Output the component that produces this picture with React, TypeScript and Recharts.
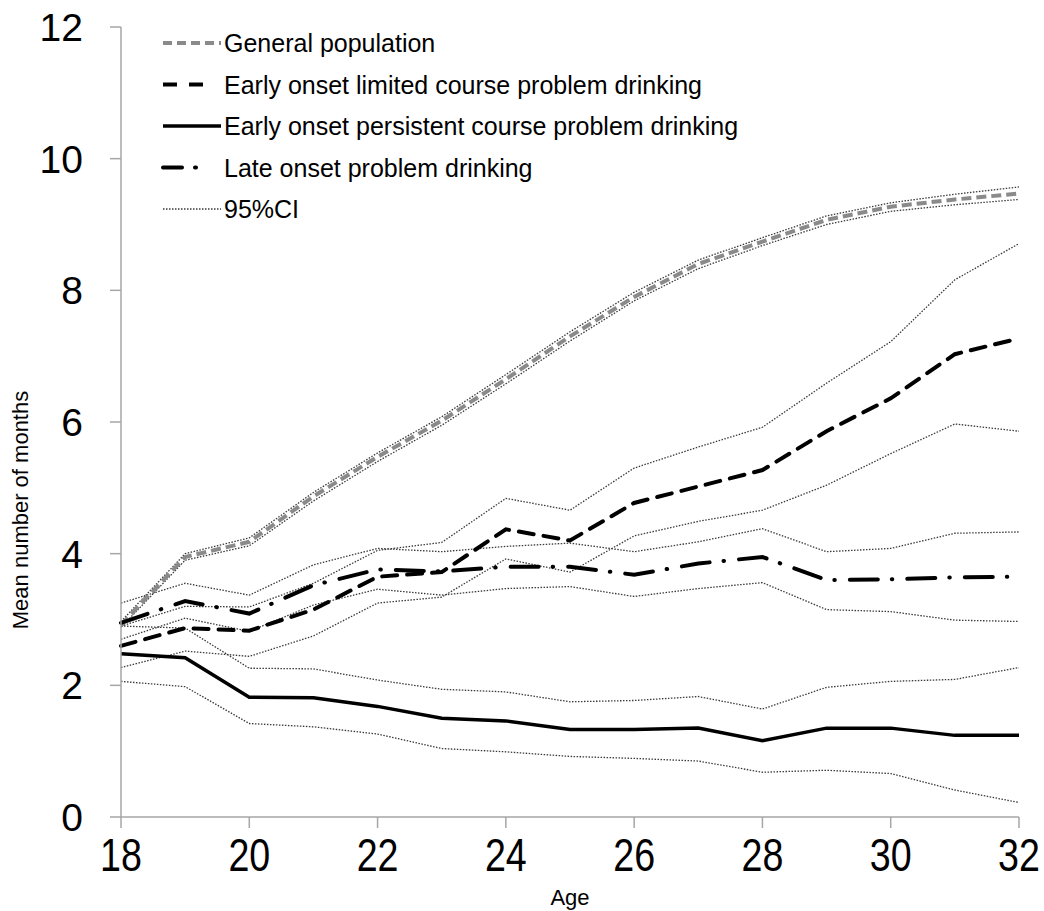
import React from 'react';
import { LineChart, Line, XAxis, YAxis, Label } from 'recharts';

const ages = [18, 19, 20, 21, 22, 23, 24, 25, 26, 27, 28, 29, 30, 31, 32];
const xTicks = [18, 20, 22, 24, 26, 28, 30, 32];
const yTicks = [0, 2, 4, 6, 8, 10, 12];

const generalPopulation = [2.92, 3.95, 4.18, 4.87, 5.47, 6.02, 6.65, 7.3, 7.9, 8.4, 8.74, 9.07, 9.27, 9.38, 9.47];
const generalLow = [2.88, 3.9, 4.12, 4.8, 5.4, 5.95, 6.58, 7.23, 7.84, 8.33, 8.68, 9.0, 9.2, 9.3, 9.38];
const generalHigh = [2.97, 4.0, 4.24, 4.93, 5.53, 6.08, 6.72, 7.37, 7.97, 8.46, 8.8, 9.13, 9.33, 9.46, 9.57];

const limitedCourse = [2.6, 2.87, 2.83, 3.15, 3.65, 3.72, 4.37, 4.2, 4.77, 5.02, 5.27, 5.86, 6.36, 7.03, 7.27];
const limitedLow = [2.27, 2.52, 2.44, 2.75, 3.25, 3.34, 3.92, 3.72, 4.27, 4.49, 4.66, 5.04, 5.52, 5.97, 5.86];
const limitedHigh = [2.9, 3.2, 3.19, 3.55, 4.05, 4.17, 4.84, 4.66, 5.3, 5.62, 5.92, 6.59, 7.22, 8.16, 8.71];

const persistentCourse = [2.48, 2.42, 1.82, 1.81, 1.68, 1.5, 1.46, 1.33, 1.33, 1.35, 1.16, 1.35, 1.35, 1.24, 1.24];
const persistentLow = [2.06, 1.98, 1.42, 1.37, 1.26, 1.04, 0.99, 0.92, 0.89, 0.85, 0.68, 0.71, 0.66, 0.41, 0.22];
const persistentHigh = [2.9, 2.87, 2.26, 2.25, 2.08, 1.94, 1.9, 1.75, 1.77, 1.83, 1.64, 1.97, 2.06, 2.09, 2.27];

const lateOnset = [2.95, 3.28, 3.09, 3.52, 3.76, 3.73, 3.8, 3.8, 3.68, 3.85, 3.95, 3.6, 3.61, 3.64, 3.65];
const lateLow = [2.7, 3.02, 2.82, 3.22, 3.46, 3.37, 3.47, 3.5, 3.35, 3.47, 3.56, 3.15, 3.12, 2.99, 2.97];
const lateHigh = [3.25, 3.55, 3.37, 3.83, 4.08, 4.03, 4.11, 4.16, 4.03, 4.18, 4.38, 4.03, 4.08, 4.31, 4.33];

const data = ages.map((age, i) => ({
  age,
  general: generalPopulation[i],
  generalLow: generalLow[i],
  generalHigh: generalHigh[i],
  limited: limitedCourse[i],
  limitedLow: limitedLow[i],
  limitedHigh: limitedHigh[i],
  persistent: persistentCourse[i],
  persistentLow: persistentLow[i],
  persistentHigh: persistentHigh[i],
  late: lateOnset[i],
  lateLow: lateLow[i],
  lateHigh: lateHigh[i],
}));

const FONT = '"Liberation Sans", Arial, sans-serif';
const GRAY = '#8a8a8a';
const AXIS = '#a6a6a6';
const CI_COLOR = '#3a3a3a';

const ciKeys = ['generalLow', 'generalHigh', 'limitedLow', 'limitedHigh', 'persistentLow', 'persistentHigh', 'lateLow', 'lateHigh'];

const legendItems = [
  { label: 'General population', stroke: GRAY, width: 4, dash: '9 5', x2: 221, cap: 'butt' },
  { label: 'Early onset limited course problem drinking', stroke: '#000', width: 4, dash: '14 12', x2: 203, cap: 'butt' },
  { label: 'Early onset persistent course problem drinking', stroke: '#000', width: 3.5, dash: undefined, x2: 221, cap: 'butt' },
  { label: 'Late onset problem drinking', stroke: '#000', width: 4, dash: '19 13 1 100', x2: 198, cap: 'round' },
  { label: '95%CI', stroke: CI_COLOR, width: 1.3, dash: '1.5 1.5', x2: 221, cap: 'butt' },
];

const XTick = (props: any) => {
  const { x, y, payload } = props;
  return (
    <g transform={`translate(${x},${y})`}>
      <text transform="scale(0.8,1)" textAnchor="middle" dy="0.71em" fontSize={47} fill="#000" fontFamily={FONT}>
        {payload.value}
      </text>
    </g>
  );
};

const YTitle = () => (
  <text
    x={28}
    y={510}
    transform="rotate(-90, 28, 510)"
    textAnchor="middle"
    fontSize={22}
    fill="#000"
    fontFamily={FONT}
  >
    Mean number of months
  </text>
);

const Legend = () => (
  <svg width={1044} height={240} style={{ position: 'absolute', left: 0, top: 0, pointerEvents: 'none' }}>
    {legendItems.map((item, i) => {
      const cy = 43 + i * 41.5;
      return (
        <g key={item.label}>
          <line
            x1={163}
            x2={item.x2}
            y1={cy}
            y2={cy}
            stroke={item.stroke}
            strokeWidth={item.width}
            strokeDasharray={item.dash}
            strokeLinecap={item.cap as any}
          />
          <text x={224} y={cy} dy="0.36em" fontSize={25} fill="#000" fontFamily={FONT}>
            {item.label}
          </text>
        </g>
      );
    })}
  </svg>
);

export default function App() {
  return (
    <div style={{ position: 'absolute', left: 0, top: 0, width: 1044, height: 911, background: '#fff' }}>
      <LineChart width={1044} height={911} data={data} margin={{ top: 27, right: 25, bottom: 0, left: 0 }}>
        <XAxis
          dataKey="age"
          type="number"
          domain={[18, 32]}
          ticks={xTicks}
          height={94}
          tickSize={11}
          tickMargin={10}
          stroke={AXIS}
          strokeWidth={1.5}
          tick={<XTick />}
          interval={0}
        >
          <Label value="Age" position="insideBottom" offset={6} fontSize={22} fill="#000" fontFamily={FONT} />
        </XAxis>
        <YAxis
          type="number"
          domain={[0, 12]}
          ticks={yTicks}
          width={121}
          tickSize={11}
          tickMargin={27}
          stroke={AXIS}
          strokeWidth={1.5}
          tick={{ fontSize: 39, fill: '#000', fontFamily: FONT }}
          interval={0}
        >
          <Label content={<YTitle />} />
        </YAxis>
        {ciKeys.map((k) => (
          <Line
            key={k}
            dataKey={k}
            stroke={CI_COLOR}
            strokeWidth={1.3}
            strokeDasharray="1.5 1.5"
            dot={false}
            activeDot={false}
            isAnimationActive={false}
          />
        ))}
        <Line dataKey="general" stroke={GRAY} strokeWidth={4} strokeDasharray="10 5" dot={false} isAnimationActive={false} />
        <Line dataKey="limited" stroke="#000" strokeWidth={4} strokeDasharray="15 10" strokeLinecap="round" dot={false} isAnimationActive={false} />
        <Line dataKey="persistent" stroke="#000" strokeWidth={3.5} dot={false} isAnimationActive={false} />
        <Line dataKey="late" stroke="#000" strokeWidth={4} strokeDasharray="28 14 0.5 15" strokeLinecap="round" dot={false} isAnimationActive={false} />
      </LineChart>
      <Legend />
    </div>
  );
}
